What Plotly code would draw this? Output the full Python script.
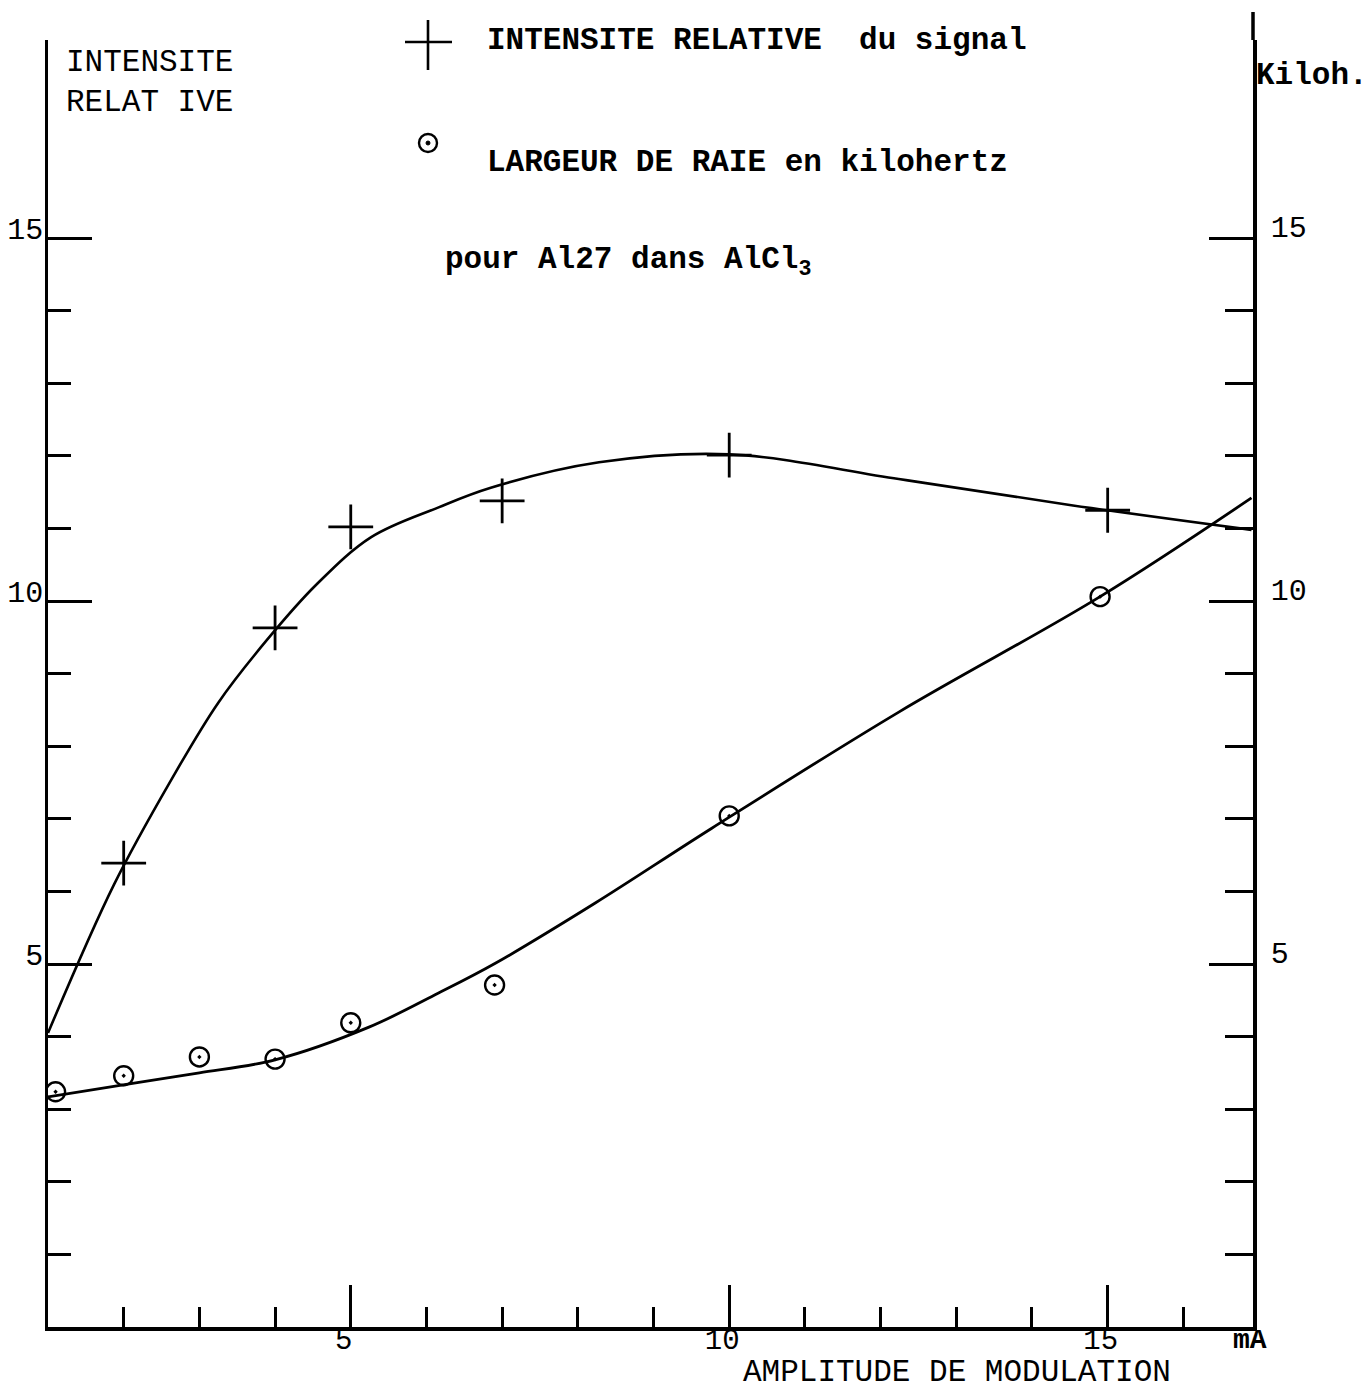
import plotly.graph_objects as go

# ---------------- data ----------------
amp_intensity = [2, 4, 5, 7, 10, 15]                      # mA
intensity = [6.39, 9.63, 11.02, 11.38, 12.01, 11.25]      # relative intensity

amp_width = [1.1, 2, 3, 4, 5, 6.9, 10, 14.9]              # mA
width_khz = [3.24, 3.46, 3.72, 3.69, 4.19, 4.71, 7.04, 10.06]  # kHz

# hand-drawn smooth curves through the points
curve_int_x = [1.0, 1.87, 2.63, 3.25, 3.89, 4.54, 5.27, 6.16, 6.85, 8.28, 10.0, 12.24, 14.52, 16.9]
curve_int_y = [4.05, 6.09, 7.54, 8.60, 9.46, 10.22, 10.88, 11.29, 11.56, 11.91, 12.02, 11.68, 11.32, 10.98]

curve_w_x = [1.0, 2.2, 3.0, 4.0, 5.24, 6.16, 6.91, 8.23, 9.77, 12.24, 14.9, 16.9]
curve_w_y = [3.17, 3.37, 3.50, 3.68, 4.13, 4.60, 5.01, 5.84, 6.87, 8.47, 10.06, 11.42]

x_major = [5, 10, 15]
x_major_text = ["5", "10", "15"]
x_minor = [2, 3, 4, 6, 7, 8, 9, 11, 12, 13, 14, 16]
y_major = [5, 10, 15]
y_left_text = ["5", "10", "15"]
y_right_text = ["5", "10", "15"]
y_minor = [1, 2, 3, 4, 6, 7, 8, 9, 11, 12, 13, 14]

legend_int = "INTENSITE RELATIVE  du signal"
legend_w = "LARGEUR DE RAIE en kilohertz"
legend_sub = "pour Al27 dans AlCl<sub>3</sub>"
y_left_title = "INTENSITE<br>RELAT IVE"
y_right_title = "Kiloh."
x_title = "AMPLITUDE DE MODULATION"
x_unit = "mA"

# ---------------- layout geometry ----------------
W, H = 1369, 1389
L, R, T, B = 48, 1253, 40, 1327
XR = [1.0, 16.92]
YR = [0.0, (B - T) / 72.6]


def px(x):
    return (x - L) / (R - L)


def py(y):
    return (B - y) / (B - T)


FONT = "Liberation Mono"
INK = "black"

fig = go.Figure()

# curves
fig.add_trace(go.Scatter(x=curve_int_x, y=curve_int_y, mode="lines",
                         line=dict(color=INK, width=2.6, shape="spline", smoothing=1.0),
                         showlegend=False, hoverinfo="skip"))
fig.add_trace(go.Scatter(x=curve_w_x, y=curve_w_y, mode="lines", yaxis="y2",
                         line=dict(color=INK, width=2.8, shape="spline", smoothing=1.0),
                         showlegend=False, hoverinfo="skip"))
# points
fig.add_trace(go.Scatter(x=amp_intensity, y=intensity, mode="markers",
                         marker=dict(symbol="cross-thin", size=32, line=dict(color=INK, width=2.8)),
                         showlegend=False, name=legend_int))
fig.add_trace(go.Scatter(x=amp_width, y=width_khz, mode="markers", yaxis="y2",
                         marker=dict(symbol="circle-open-dot", size=19, color=INK,
                                     line=dict(color=INK, width=2.4)),
                         showlegend=False, name="LARGEUR DE RAIE"))

tickfont = dict(family=FONT, size=30, color=INK)

fig.update_layout(
    width=W, height=H,
    margin=dict(l=L, r=W - R, t=T, b=H - B, pad=0),
    paper_bgcolor="white", plot_bgcolor="white",
    font=dict(family=FONT, color=INK),
    xaxis=dict(range=XR, showgrid=False, zeroline=False, automargin=False,
               showline=True, linecolor=INK, linewidth=3.5,
               tickmode="array", tickvals=x_major, ticktext=x_major_text,
               ticks="inside", ticklen=42, tickwidth=2.5, tickcolor=INK,
               tickfont=dict(family=FONT, size=29, color=INK),
               ticklabelshift=-7, ticklabelstandoff=-17,
               minor=dict(tickmode="array", tickvals=x_minor, ticks="inside",
                          ticklen=20, tickwidth=2.5, tickcolor=INK)),
    yaxis=dict(range=YR, showgrid=False, zeroline=False, automargin=False,
               showline=True, linecolor=INK, linewidth=2.5,
               tickmode="array", tickvals=y_major, ticktext=y_left_text,
               ticks="inside", ticklen=44, tickwidth=2.5, tickcolor=INK,
               tickfont=tickfont, ticklabelshift=-10, ticklabelstandoff=-4,
               minor=dict(tickmode="array", tickvals=y_minor, ticks="inside",
                          ticklen=23, tickwidth=2.5, tickcolor=INK)),
    yaxis2=dict(range=YR, overlaying="y", side="right", showgrid=False, zeroline=False,
                automargin=False,
                showline=True, linecolor=INK, linewidth=3.5,
                tickmode="array", tickvals=y_major, ticktext=y_right_text,
                ticks="inside", ticklen=44, tickwidth=2.5, tickcolor=INK,
                tickfont=dict(family=FONT, size=30, color=INK),
                ticklabelshift=-12, ticklabelstandoff=8,
                minor=dict(tickmode="array", tickvals=y_minor, ticks="inside",
                           ticklen=28, tickwidth=2.5, tickcolor=INK)),
    showlegend=False,
)

# right axis extends slightly above the plot
fig.add_shape(type="line", xref="paper", yref="paper", x0=1, x1=1, y0=1, y1=py(12),
              line=dict(color=INK, width=3.5))

# legend symbols
fig.add_shape(type="line", xref="paper", yref="paper", x0=px(405), x1=px(452), y0=py(42), y1=py(42),
              line=dict(color=INK, width=2.6))
fig.add_shape(type="line", xref="paper", yref="paper", x0=px(428), x1=px(428), y0=py(20), y1=py(70),
              line=dict(color=INK, width=2.6))
fig.add_shape(type="circle", xref="paper", yref="paper", x0=px(419), x1=px(437), y0=py(134), y1=py(152),
              line=dict(color=INK, width=2.4))
fig.add_shape(type="circle", xref="paper", yref="paper", x0=px(426), x1=px(430), y0=py(141), y1=py(145),
              line=dict(color=INK, width=1), fillcolor=INK)

bold = dict(family=FONT, size=31, color=INK)


def label(text, x, y, font, xanchor="left", align="left"):
    fig.add_annotation(text=text, x=px(x), y=py(y), xref="paper", yref="paper",
                       xanchor=xanchor, yanchor="middle", showarrow=False,
                       font=font, align=align)


label("<b>" + legend_int + "</b>", 485, 40, bold)
label("<b>" + legend_w + "</b>", 485, 162, bold)
label("<b>" + legend_sub + "</b>", 443, 262, bold)
label(y_left_title, 64, 82, dict(family=FONT, size=31, color=INK))
label("<b>" + y_right_title + "</b>", 1254, 75, bold)
label(x_title, 957, 1372, dict(family=FONT, size=31, color=INK), xanchor="center")
label("<b>" + x_unit + "</b>", 1250, 1340, dict(family=FONT, size=28, color=INK), xanchor="center")

fig.write_html("out.html", config={"displayModeBar": False},
               post_script="document.body.style.margin='0';document.body.style.overflow='hidden';")
